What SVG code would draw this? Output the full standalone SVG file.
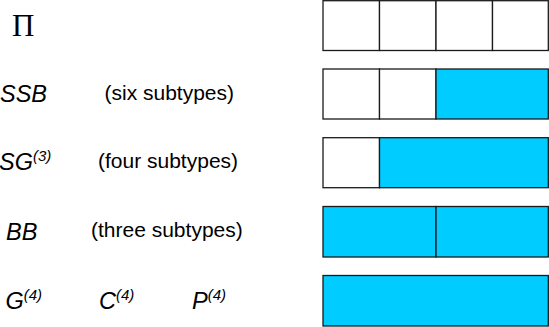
<svg xmlns="http://www.w3.org/2000/svg" width="549" height="327" viewBox="0 0 549 327">
<style>
.lbl{font-family:"Liberation Sans",Arial,sans-serif;font-style:italic;font-size:23.5px;fill:#000}
.sup{font-size:15px}
.note{font-family:"Liberation Sans",Arial,sans-serif;font-size:21px;fill:#000}
.pi{font-family:"Liberation Serif","Times New Roman",serif;font-size:31px;fill:#000}
.w{fill:#fff;stroke:#1a1a1a;stroke-width:1.3}
.b{fill:#00CCFF;stroke:#1a1a1a;stroke-width:1.3}
</style>
<rect width="549" height="327" fill="#fff"/>
<g id="row-pi">
<text class="pi" x="12" y="35.5">Π</text>
<rect class="w" x="323" y="0.7" width="56.5" height="49.8"/>
<rect class="w" x="379.5" y="0.7" width="56.5" height="49.8"/>
<rect class="w" x="436" y="0.7" width="56.5" height="49.8"/>
<rect class="w" x="492.5" y="0.7" width="55.8" height="49.8"/>
</g>
<g id="row-ssb">
<text class="lbl" x="0" y="102">SSB</text>
<text class="note" x="104.5" y="100">(six subtypes)</text>
<rect class="w" x="323" y="69" width="56.5" height="50"/>
<rect class="w" x="379.5" y="69" width="56.5" height="50"/>
<rect class="b" x="436" y="69" width="112.3" height="50"/>
</g>
<g id="row-sg">
<text class="lbl" x="-1" y="170">SG<tspan class="sup" dy="-9">(3)</tspan></text>
<text class="note" x="98" y="167.5">(four subtypes)</text>
<rect class="w" x="323" y="137.7" width="56.5" height="50"/>
<rect class="b" x="379.5" y="137.7" width="168.8" height="50"/>
</g>
<g id="row-bb">
<text class="lbl" x="6" y="239.5">BB</text>
<text class="note" x="91" y="236.5">(three subtypes)</text>
<rect class="b" x="323" y="206.5" width="113" height="50.5"/>
<rect class="b" x="436" y="206.5" width="112.3" height="50.5"/>
</g>
<g id="row-g">
<text class="lbl" x="5.5" y="308.5">G<tspan class="sup" dy="-9">(4)</tspan></text>
<text class="lbl" x="99" y="308.5">C<tspan class="sup" dy="-9">(4)</tspan></text>
<text class="lbl" x="192" y="308.5">P<tspan class="sup" dy="-9">(4)</tspan></text>
<rect class="b" x="323" y="275.5" width="225.3" height="50.5"/>
</g>
<g id="connectors"/>
</svg>
